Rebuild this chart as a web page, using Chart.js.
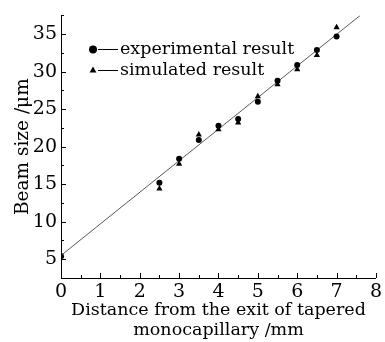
<!DOCTYPE html>
<html>
<head>
<meta charset="utf-8">
<script src="https://cdn.jsdelivr.net/npm/chart.js@4/dist/chart.umd.min.js"></script>
<style>
  html, body { margin: 0; padding: 0; background: #ffffff; }
  #wrap { width: 385px; height: 342px; }
</style>
</head>
<body>
<div id="wrap"><canvas id="c" width="385" height="342"></canvas></div>
<script>
// ---- data ----
const distances    = [0, 2.5, 3, 3.5, 4, 4.5, 5, 5.5, 6, 6.5, 7];
const experimental = [5.4, 15.2, 18.4, 20.9, 22.8, 23.7, 26.0, 28.8, 30.9, 32.9, 34.7];
const simulated    = [5.4, 14.4, 17.7, 21.6, 22.3, 23.2, 26.7, 28.3, 30.3, 32.2, 35.9];
const fitX = [0, 7.6];
const fitY = [5.5, 37.5];
const xTickLabels = [0, 1, 2, 3, 4, 5, 6, 7, 8];
const yTickLabels = [5, 10, 15, 20, 25, 30, 35];
const seriesNames = ['experimental result', 'simulated result'];
const xTitle = ['Distance from the exit of tapered', 'monocapillary /mm'];
const yTitle = 'Beam size /\u03bcm';

const FONT = 'DejaVu Serif';
const toPts = (xs, ys) => xs.map((x, i) => ({ x: x, y: ys[i] }));

// inward tick marks (major + minor)
const innerTicks = {
  id: 'innerTicks',
  afterDatasetsDraw(chart) {
    const ctx = chart.ctx;
    const xs = chart.scales.x, ys = chart.scales.y;
    ctx.save();
    ctx.strokeStyle = '#000';
    ctx.lineWidth = 1;
    ctx.beginPath();
    xs.ticks.forEach(t => {
      const px = Math.round(xs.getPixelForValue(t.value)) + 0.5;
      const len = xTickLabels.includes(t.value) ? 5 : 3;
      ctx.moveTo(px, xs.top);
      ctx.lineTo(px, xs.top - len);
    });
    ys.ticks.forEach(t => {
      const py = Math.round(ys.getPixelForValue(t.value)) + 0.5;
      const len = yTickLabels.includes(t.value) ? 5 : 3;
      ctx.moveTo(ys.right, py);
      ctx.lineTo(ys.right + len, py);
    });
    ctx.stroke();
    ctx.restore();
  }
};

// legend drawn inside the plot: marker — label
const innerLegend = {
  id: 'innerLegend',
  afterDraw(chart) {
    const ctx = chart.ctx;
    const a = chart.chartArea;
    const rows = [
      { style: 'circle', r: 4, y: a.top + 34 },
      { style: 'triangle', r: 4, y: a.top + 55 }
    ];
    ctx.save();
    ctx.fillStyle = '#000';
    ctx.strokeStyle = '#000';
    ctx.font = '17.5px "' + FONT + '"';
    ctx.textBaseline = 'middle';
    ctx.textAlign = 'left';
    rows.forEach((row, i) => {
      const mx = a.left + 32;
      Chart.helpers.drawPoint(ctx, { pointStyle: row.style, radius: row.r, rotation: 0, borderWidth: 0 }, mx, row.y);
      ctx.fillStyle = '#000';
      ctx.beginPath();
      ctx.lineWidth = 1;
      ctx.moveTo(mx + 5, Math.round(row.y) + 0.5);
      ctx.lineTo(a.left + 57, Math.round(row.y) + 0.5);
      ctx.stroke();
      ctx.fillText(seriesNames[i], a.left + 59, row.y);
    });
    ctx.restore();
  }
};

new Chart(document.getElementById('c'), {
  type: 'scatter',
  data: {
    datasets: [
      {
        label: 'fit',
        type: 'line',
        data: toPts(fitX, fitY),
        borderColor: '#5a5a5a',
        borderWidth: 1,
        pointRadius: 0,
        fill: false,
        order: 3
      },
      {
        label: seriesNames[0],
        data: toPts(distances, experimental),
        pointStyle: 'circle',
        pointRadius: 3,
        backgroundColor: '#000',
        borderColor: '#000',
        borderWidth: 0,
        clip: 0,
        order: 2
      },
      {
        label: seriesNames[1],
        data: toPts(distances, simulated),
        pointStyle: 'triangle',
        pointRadius: 3.6,
        backgroundColor: '#000',
        borderColor: '#000',
        borderWidth: 0,
        clip: 0,
        order: 1
      }
    ]
  },
  options: {
    responsive: false,
    animation: false,
    devicePixelRatio: 1,
    layout: { padding: { left: 0, right: 5, top: 8, bottom: 0 } },
    plugins: { legend: { display: false }, tooltip: { enabled: false } },
    scales: {
      x: {
        type: 'linear',
        min: 0, max: 8,
        afterFit(s) { s.height = 64; },
        grid: { display: true, drawOnChartArea: false, drawTicks: false },
        border: { display: true, color: '#000', width: 1 },
        ticks: {
          stepSize: 0.5, autoSkip: false, maxRotation: 0, padding: 3,
          color: '#000',
          font: { family: FONT, size: 19 },
          callback: v => xTickLabels.includes(v) ? String(v) : ''
        },
        title: {
          display: true, text: xTitle, color: '#000',
          font: { family: FONT, size: 17.5, lineHeight: '20px' },
          padding: { top: 0, bottom: 2 }
        }
      },
      y: {
        type: 'linear',
        min: 2.5, max: 37.5,
        afterFit(s) { s.width = 61; },
        grid: { display: true, drawOnChartArea: false, drawTicks: false },
        border: { display: true, color: '#000', width: 1 },
        ticks: {
          stepSize: 2.5, autoSkip: false, padding: 4,
          color: '#000',
          font: { family: FONT, size: 19 },
          callback: v => yTickLabels.includes(v) ? String(v) : ''
        },
        title: {
          display: true, text: yTitle, color: '#000',
          font: { family: FONT, size: 18.5, lineHeight: '20px' },
          padding: { top: 13, bottom: 0 }
        }
      }
    }
  },
  plugins: [innerTicks, innerLegend]
});
</script>
</body>
</html>
